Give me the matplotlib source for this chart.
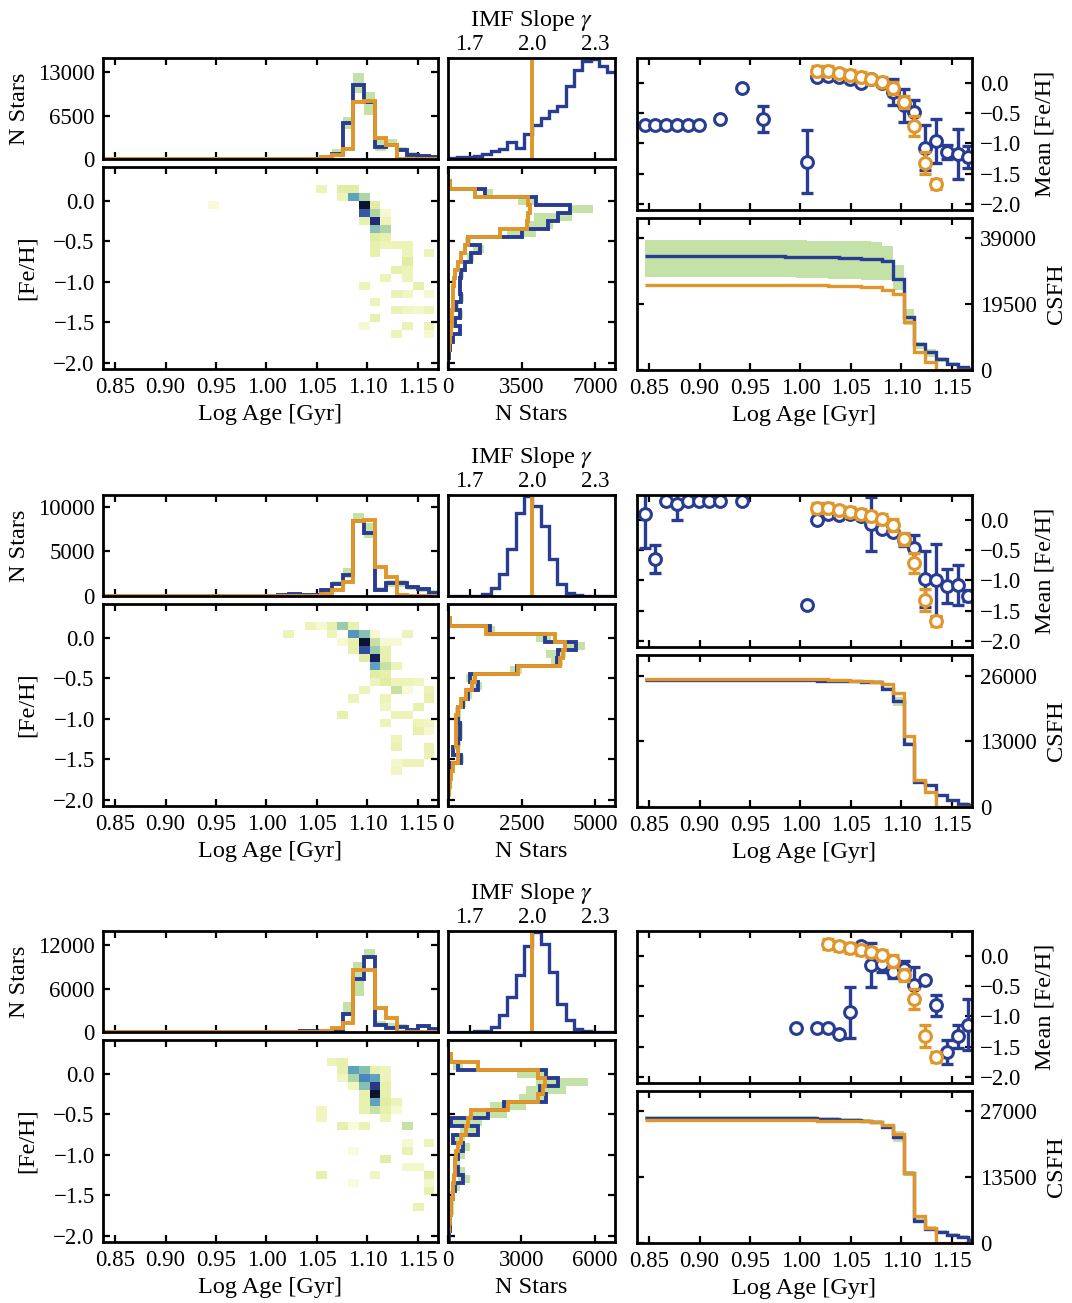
import numpy as np
import matplotlib
matplotlib.use("Agg")
import matplotlib.pyplot as plt
from matplotlib.colors import LinearSegmentedColormap

plt.rcParams.update({
    "font.family": ["Liberation Serif", "DejaVu Serif"],
    "mathtext.fontset": "stix",
    "font.size": 16.5,
    "axes.linewidth": 2.0,
})

# ---------------- grids ----------------
age_grid = np.round(0.8348 + 0.0107 * np.arange(33), 4)      # log-age grid
feh_grid = np.round(np.arange(-2.1, 0.45, 0.1), 1)           # [Fe/H] grid
imf_edges = np.round(np.arange(1.6, 2.4001, 0.04), 2)
feh_centers = np.round(np.arange(0.4, -2.15, -0.1), 1)       # 0.4 ... -2.1 (26)
AGE_K0 = 17                                                  # first age index listed

age_ticks = [0.85, 0.90, 0.95, 1.00, 1.05, 1.10, 1.15]
feh_ticks = [0.0, -0.5, -1.0, -1.5, -2.0]
imf_ticks = [1.7, 2.0, 2.3]
imf_true = 2.0

# ---------------- row 1 ----------------
r1_age_blue = [0, 0, 30, 60, 100, 760, 5400, 11100, 8500, 1760, 2050, 1360, 650, 500, 250]
r1_age_orange = [0, 0, 0, 50, 250, 650, 1500, 8570, 8700, 3175, 2100, 0, 0, 0, 0]
r1_age_lo = [0, 0, 0, 0, 50, 600, 4540, 9830, 6550, 1260, 1760, 1000, 500, 350, 150]
r1_age_hi = [0, 0, 50, 100, 200, 1500, 6300, 12950, 10080, 3020, 3020, 1760, 1000, 750, 500]
r1_age_ticks = [0, 6500, 13000]
r1_age_top = 15150

r1_imf = [3, 5, 7, 10, 15, 22, 28, 50, 33, 73, 98, 118, 138, 153, 213, 258, 283, 290, 270, 253]

r1_mdf_blue = [0, 0, 80, 1750, 4200, 5800, 5250, 4770, 3500, 950, 1510, 1110, 800, 640, 560, 560,
               640, 400, 590, 320, 560, 240, 80, 50, 0, 0]
r1_mdf_orange = [0, 0, 110, 1270, 3800, 3900, 3800, 3770, 2460, 950, 800, 640, 480, 320, 270, 240,
                 240, 240, 210, 210, 160, 110, 50, 0, 0, 0]
r1_mdf_lo = [0, 0, 0, 1650, 3340, 5800, 4100, 3700, 2800, 800, 1200, 900, 700, 550, 480, 480,
             550, 330, 500, 250, 480, 180, 30, 0, 0, 0]
r1_mdf_hi = [0, 0, 150, 2150, 4300, 6900, 5900, 5000, 4200, 1100, 1700, 1250, 900, 750, 650, 650,
             750, 500, 700, 400, 650, 320, 150, 80, 0, 0]
r1_mdf_ticks = [0, 3500, 7000]
r1_mdf_right = 7950

r1_cell_age = [20, 22, 23, 22, 23, 24, 10, 24, 25, 24, 25, 26, 24, 25, 26, 25, 26, 25, 26,
               25, 26, 27, 28, 25, 28, 30, 28, 27, 28, 26, 28, 24, 29, 27, 28, 30, 25,
               27, 28, 29, 30, 25, 24, 28, 30, 27, 30]
r1_cell_feh = [0.1, 0.1, 0.1, 0.0, 0.0, 0.0, -0.1, -0.1, -0.1, -0.2, -0.2, -0.2, -0.3, -0.3, -0.3,
               -0.4, -0.4, -0.5, -0.5, -0.6, -0.6, -0.6, -0.6, -0.7, -0.7, -0.7, -0.8, -0.9, -0.9,
               -1.0, -1.0, -1.1, -1.1, -1.2, -1.2, -1.2, -1.3, -1.4, -1.4, -1.4, -1.4, -1.5,
               -1.6, -1.6, -1.6, -1.7, -1.7]
r1_cell_n = [1, 2, 2, 1, 5, 3, 0.3, 10, 2, 7, 3, 0.5, 1.5, 9, 1, 4, 3, 2, 1.5, 1.5, 1, 1, 1,
             1.5, 1, 1, 2, 1.5, 1, 1, 1, 1, 1.5, 1.2, 0.8, 0.5, 1, 1.2, 0.8, 0.6, 1, 1.5,
             0.5, 1.2, 1.2, 1, 0.5]

r1_mean_k = [1, 2, 3, 4, 5, 6, 8, 10, 12, 16, 17, 18, 19, 20, 21, 22, 23, 24, 25, 26, 27, 28, 29, 30, 31]
r1_mean_val = [-0.70, -0.70, -0.70, -0.70, -0.70, -0.70, -0.60, -0.09, -0.60, -1.30, 0.10, 0.12,
               0.09, 0.06, -0.01, 0.06, 0.00, -0.155, -0.37, -0.48, -1.07, -0.96, -1.14, -1.18, -1.22]
r1_mean_err = [0, 0, 0, 0, 0, 0, 0, 0, 0.21, 0.52, 0, 0, 0, 0, 0, 0, 0, 0.21, 0.27, 0.20, 0.37,
               0.36, 0.12, 0.41, 0.18]

r1_csfh_blue = [33700] * 12 + [33650, 33600, 33550, 33500, 33450, 33350, 33250, 33100, 32950,
                               32750, 32340, 27080, 15670, 7740, 5260, 3270, 1790, 990, 300]
r1_csfh_orange = [25100] * 16 + [25050, 25000, 24900, 24800, 24700, 24500, 23800, 22600, 14200,
                                 5260, 2280, 0, 0, 0, 0]
r1_csfh_lo = [27600] * 12 + [27500, 27400, 27300, 27200, 27100, 27000, 26900, 26800, 26700, 26600,
                             26600, 23600, 13200, 6250, 3770, 2280, 1290, 600, 0]
r1_csfh_hi = [38500] * 12 + [38450, 38400, 38350, 38300, 38250, 38200, 38150, 38100, 38050, 38000,
                             36700, 31050, 18150, 8230, 6250, 3770, 2280, 1290, 800]
r1_csfh_ticks = [0, 19500, 39000]
r1_csfh_top = 45000

# ---------------- row 2 ----------------
r2_age_blue = [150, 200, 150, 100, 670, 1340, 2350, 8430, 7090, 670, 1420, 1420, 970, 750, 370]
r2_age_orange = [0, 0, 0, 50, 220, 670, 1600, 8430, 8500, 3200, 2090, 100, 0, 0, 0]
r2_age_lo = [100, 150, 100, 50, 500, 1100, 1980, 8200, 6450, 480, 1040, 970, 670, 480, 220]
r2_age_hi = [200, 250, 200, 150, 900, 1700, 3100, 9330, 8130, 1040, 1790, 1790, 1230, 970, 670]
r2_age_ticks = [0, 5000, 10000]
r2_age_top = 11300

r2_imf = [0, 0, 0, 1, 5, 25, 65, 140, 250, 300, 270, 210, 110, 35, 10, 2, 0, 0, 0, 0]

r2_mdf_blue = [0, 0, 60, 1420, 3300, 4370, 3750, 3700, 2330, 740, 1020, 680, 510, 340, 340, 400,
               400, 340, 170, 450, 60, 30, 0, 0, 0, 0]
r2_mdf_orange = [0, 0, 60, 1300, 3640, 3980, 3920, 3800, 2390, 910, 800, 620, 450, 340, 280, 280,
                 280, 260, 340, 340, 170, 110, 60, 30, 0, 0]
r2_mdf_lo = [0, 0, 0, 1300, 3000, 4000, 3350, 3500, 2100, 600, 850, 550, 400, 250, 250, 300,
             300, 250, 100, 350, 0, 0, 0, 0, 0, 0]
r2_mdf_hi = [0, 0, 100, 1600, 3500, 4650, 4000, 3900, 2500, 900, 1150, 800, 600, 450, 450, 500,
             500, 450, 250, 550, 120, 60, 0, 0, 0, 0]
r2_mdf_ticks = [0, 2500, 5000]
r2_mdf_right = 5680

r2_cell_age = [19, 20, 21, 22, 23, 17, 21, 23, 24, 25, 28, 22, 23, 24, 25, 26, 27, 23, 24, 25, 26,
               24, 25, 26, 25, 26, 27, 25, 26, 25, 26, 27, 28, 29, 24, 27, 28, 30, 23, 26, 30,
               26, 29, 22, 27, 28, 26, 29, 30, 29, 30, 27, 27, 30, 30, 27, 28, 29, 27]
r2_cell_feh = [0.1, 0.1, 0.1, 0.1, 0.1, 0.0, 0.0, 0.0, 0.0, 0.0, 0.0, -0.1, -0.1, -0.1, -0.1, -0.1,
               -0.1, -0.2, -0.2, -0.2, -0.2, -0.3, -0.3, -0.3, -0.4, -0.4, -0.4, -0.5, -0.5,
               -0.6, -0.6, -0.6, -0.6, -0.6, -0.7, -0.7, -0.7, -0.7, -0.8, -0.8, -0.8, -0.9, -0.9,
               -1.0, -1.0, -1.0, -1.1, -1.1, -1.1, -1.2, -1.2, -1.3, -1.4, -1.4, -1.5, -1.6,
               -1.6, -1.6, -1.7]
r2_cell_n = [1, 0.5, 1.5, 3.5, 1.5, 1, 1, 5.5, 4, 0.4, 1, 0.4, 1.5, 10, 2.5, 0.4, 0.4, 1.5, 7.5,
             3.5, 1.5, 2, 9.5, 1.5, 5, 2.5, 1, 2, 1.5, 1, 2, 1, 1, 0.8, 1, 2.5, 0.3, 1.2, 1, 1,
             1.5, 0.8, 1.5, 1.5, 1, 1, 1, 1, 0.8, 1.5, 0.5, 1, 1.3, 1.3, 1.3, 0.6, 1, 1, 0.8]

r2_mean_k = [1, 2, 3, 4, 5, 6, 7, 8, 10, 16, 17, 18, 19, 20, 21, 22, 23, 24, 25, 26, 27, 28, 29, 30, 31]
r2_mean_val = [0.10, -0.65, 0.305, 0.26, 0.305, 0.305, 0.305, 0.305, 0.305, -1.40, 0.00, 0.09, 0.08,
               0.10, 0.06, -0.07, -0.15, -0.20, -0.33, -0.47, -0.98, -1.00, -1.10, -1.07, -1.25]
r2_mean_err = [0.57, 0.23, 0, 0.27, 0, 0, 0, 0, 0, 0, 0, 0, 0, 0, 0, 0.44, 0.05, 0.05, 0.10,
               0.22, 0.46, 0.60, 0.28, 0.33, 0.09]

r2_csfh_blue = [25180] * 14 + [25150, 25100, 25050, 25000, 24950, 24900, 24850, 24800, 23380,
                               20900, 12490, 4900, 4340, 2300, 1340, 670, 330]
r2_csfh_orange = [25300] * 16 + [25250, 25200, 25150, 25050, 24950, 24850, 24400, 22500, 14000,
                                 5340, 3000, 0, 0, 0, 0]
r2_csfh_lo = [24900] * 14 + [24850, 24800, 24750, 24700, 24650, 24600, 24550, 24500, 23000, 20000,
                             12200, 4600, 4000, 2000, 1000, 400, 0]
r2_csfh_hi = [25500] * 14 + [25450, 25400, 25350, 25300, 25250, 25200, 25150, 25100, 23800, 21700,
                             12900, 5200, 4600, 2600, 1600, 1000, 600]
r2_csfh_ticks = [0, 13000, 26000]
r2_csfh_top = 30100

# ---------------- row 3 ----------------
r3_age_blue = [0, 0, 100, 140, 150, 280, 2460, 7350, 10370, 930, 600, 740, 280, 840, 370]
r3_age_orange = [0, 0, 0, 0, 140, 600, 1300, 8500, 8500, 3250, 2000, 0, 0, 0, 0]
r3_age_lo = [0, 0, 50, 100, 100, 150, 2230, 5020, 10140, 840, 600, 600, 140, 600, 140]
r3_age_hi = [0, 0, 150, 200, 250, 700, 4090, 9670, 11530, 1530, 1300, 1070, 600, 1160, 600]
r3_age_ticks = [0, 6000, 12000]
r3_age_top = 13950

r3_imf = [0, 0, 0, 2, 3, 15, 50, 105, 170, 257, 300, 265, 180, 85, 35, 10, 2, 0, 0, 0]

r3_mdf_blue = [0, 0, 100, 410, 4020, 4500, 3750, 4020, 2300, 1640, 140, 1230, 200, 610, 410, 270,
               410, 610, 270, 200, 140, 140, 70, 70, 40, 0]
r3_mdf_orange = [0, 0, 140, 1230, 3680, 3960, 3890, 3680, 2450, 950, 820, 750, 550, 410, 310, 270,
                 270, 230, 200, 200, 140, 140, 70, 40, 0, 0]
r3_mdf_lo = [0, 0, 0, 200, 2800, 3600, 3200, 2900, 1700, 1000, 100, 500, 200, 400, 300, 200,
             300, 400, 200, 100, 50, 50, 0, 0, 0, 0]
r3_mdf_hi = [0, 0, 200, 600, 4100, 5700, 4800, 4000, 3200, 2400, 1400, 1300, 700, 900, 700, 500,
             700, 900, 500, 300, 250, 250, 150, 150, 100, 0]
r3_mdf_ticks = [0, 3000, 6000]
r3_mdf_right = 6820

r3_cell_age = [21, 22, 22, 23, 24, 25, 26, 22, 23, 24, 25, 26, 23, 24, 25, 26, 24, 25, 26, 24, 25,
               26, 27, 20, 24, 25, 26, 27, 20, 26, 22, 23, 24, 28, 28, 30, 23, 28, 26, 28, 29,
               20, 25, 30, 23, 30, 30, 29]
r3_cell_feh = [0.1, 0.1, 0.0, 0.0, 0.0, 0.0, 0.0, -0.1, -0.1, -0.1, -0.1, -0.1, -0.2, -0.2, -0.2,
               -0.2, -0.3, -0.3, -0.3, -0.4, -0.4, -0.4, -0.4, -0.5, -0.5, -0.5, -0.5, -0.5,
               -0.6, -0.6, -0.7, -0.7, -0.7, -0.7, -0.9, -0.9, -1.0, -1.0, -1.1, -1.2, -1.2,
               -1.3, -1.3, -1.3, -1.4, -1.4, -1.5, -1.7]
r3_cell_n = [1, 1.5, 1.5, 5, 4, 1.5, 1, 0.8, 3, 6, 5, 1, 0.8, 4, 8.5, 1.5, 1.5, 10, 1.5, 1.5, 5,
             2, 1, 0.8, 1.5, 2.5, 1.5, 0.4, 0.8, 1, 1.5, 0.3, 1.2, 2.5, 0.5, 1, 0.2, 1.3, 1.8,
             0.6, 0.6, 1.5, 0.8, 1.8, 0.2, 0.6, 1.5, 1.2]

r3_mean_k = [15, 17, 18, 19, 20, 21, 22, 23, 24, 25, 26, 27, 28, 29, 30, 31]
r3_mean_val = [-1.19, -1.19, -1.19, -1.29, -0.93, 0.16, -0.15, -0.13, -0.26, -0.22, -0.48, -0.40,
               -0.82, -1.59, -1.33, -1.14]
r3_mean_err = [0, 0, 0, 0, 0.42, 0.03, 0.36, 0.14, 0.11, 0.13, 0.29, 0, 0.18, 0.20, 0.19, 0.42]

r3_csfh_blue = [25700] * 14 + [25650, 25600, 25500, 25400, 25300, 25150, 25000, 24820, 23800,
                               21690, 14280, 4560, 2920, 2240, 1560, 1160, 680]
r3_csfh_orange = [25160] * 14 + [25140, 25120, 25100, 25050, 25000, 24950, 24900, 24800, 24140,
                                 22440, 14280, 5440, 3060, 0, 0, 0, 0]
r3_csfh_lo = [25300] * 14 + [25250, 25200, 25100, 25000, 24900, 24750, 24600, 24400, 23400, 20800,
                             13800, 4300, 2600, 2000, 1300, 900, 500]
r3_csfh_hi = [26100] * 14 + [26050, 26000, 25900, 25800, 25700, 25550, 25400, 25200, 24400, 22900,
                             14800, 5200, 3400, 2700, 2000, 1700, 1200]
r3_csfh_ticks = [0, 13500, 27000]
r3_csfh_top = 31150

# true (input) mean metallicity per age
true_mean_k = [17, 18, 19, 20, 21, 22, 23, 24, 25, 26, 27, 28]
true_mean_val = [0.20, 0.20, 0.155, 0.13, 0.10, 0.055, 0.016, -0.09, -0.31, -0.71, -1.33, -1.67]
true_mean_err = [0.08, 0.08, 0.08, 0.08, 0.08, 0.08, 0.08, 0.10, 0.10, 0.16, 0.18, 0.09]

# ---------------- styling ----------------
BLUE = "#283c92"
ORANGE = "#e0962a"
GREEN = "#c4e2a8"
CMAP = LinearSegmentedColormap.from_list("ylgnbu_muted", [
    (0.00, "#fcfde4"), (0.10, "#eef3b9"), (0.20, "#e2eca2"), (0.30, "#abd5aa"),
    (0.40, "#86c0b1"), (0.50, "#5fa3bd"), (0.60, "#4a86bf"), (0.70, "#3458a5"),
    (0.80, "#2f479c"), (0.90, "#262a78"), (1.00, "#0c1430")])
XLIM = (0.838, 1.170)
FEH_LIM = (-2.08, 0.42)
MEAN_LIM = (-2.10, 0.41)
IMF_LIM = (1.596, 2.396)
FS = 16.5
LFS = 17.5

rows = [
    dict(age=(r1_age_blue, r1_age_orange, r1_age_lo, r1_age_hi), age_ticks=r1_age_ticks, age_top=r1_age_top,
         imf=r1_imf, mdf=(r1_mdf_blue, r1_mdf_orange, r1_mdf_lo, r1_mdf_hi), mdf_ticks=r1_mdf_ticks,
         mdf_right=r1_mdf_right, cells=(r1_cell_age, r1_cell_feh, r1_cell_n),
         mean=(r1_mean_k, r1_mean_val, r1_mean_err), true_start=0,
         csfh=(r1_csfh_blue, r1_csfh_orange, r1_csfh_lo, r1_csfh_hi), csfh_ticks=r1_csfh_ticks,
         csfh_top=r1_csfh_top),
    dict(age=(r2_age_blue, r2_age_orange, r2_age_lo, r2_age_hi), age_ticks=r2_age_ticks, age_top=r2_age_top,
         imf=r2_imf, mdf=(r2_mdf_blue, r2_mdf_orange, r2_mdf_lo, r2_mdf_hi), mdf_ticks=r2_mdf_ticks,
         mdf_right=r2_mdf_right, cells=(r2_cell_age, r2_cell_feh, r2_cell_n),
         mean=(r2_mean_k, r2_mean_val, r2_mean_err), true_start=0,
         csfh=(r2_csfh_blue, r2_csfh_orange, r2_csfh_lo, r2_csfh_hi), csfh_ticks=r2_csfh_ticks,
         csfh_top=r2_csfh_top),
    dict(age=(r3_age_blue, r3_age_orange, r3_age_lo, r3_age_hi), age_ticks=r3_age_ticks, age_top=r3_age_top,
         imf=r3_imf, mdf=(r3_mdf_blue, r3_mdf_orange, r3_mdf_lo, r3_mdf_hi), mdf_ticks=r3_mdf_ticks,
         mdf_right=r3_mdf_right, cells=(r3_cell_age, r3_cell_feh, r3_cell_n),
         mean=(r3_mean_k, r3_mean_val, r3_mean_err), true_start=1,
         csfh=(r3_csfh_blue, r3_csfh_orange, r3_csfh_lo, r3_csfh_hi), csfh_ticks=r3_csfh_ticks,
         csfh_top=r3_csfh_top),
]

W, H = 1072, 1303
fig = plt.figure(figsize=(W / 100, H / 100), dpi=100)


def pax(x0, y0, x1, y1):
    return fig.add_axes([x0 / W, 1 - y1 / H, (x1 - x0) / W, (y1 - y0) / H])


def style(ax, **kw):
    params = dict(which="both", direction="in", top=True, bottom=True, left=True, right=True,
                  length=5, width=1.6, labelsize=FS, pad=6,
                  labelleft=False, labelright=False, labelbottom=False, labeltop=False)
    params.update(kw)
    ax.tick_params(**params)
    for s in ax.spines.values():
        s.set_linewidth(2.0)
        s.set_zorder(5)


hw = 0.0107 / 2
age_hist_edges = np.append(age_grid[:32] - hw, age_grid[31] + hw)
feh_asc = feh_centers[::-1]
mdf_edges = np.append(feh_asc - 0.05, feh_asc[-1] + 0.05)


def pad_age(v):
    return np.concatenate([np.zeros(AGE_K0), np.asarray(v, float)])


for r, d in enumerate(rows):
    dy = [0, 437, 873][r]
    ax_age = pax(103, 58 + dy, 438, 159 + dy)
    ax2d = pax(103, 167 + dy, 438, 369 + dy)
    ax_imf = pax(448, 58 + dy, 615, 159 + dy)
    ax_mdf = pax(448, 167 + dy, 615, 369 + dy)
    ax_mean = pax(637, 58 + dy, 972, 210 + dy)
    ax_cs = pax(637, 218 + dy, 972, 370 + dy)

    # --- age histogram ---
    b, o, lo, hi = (pad_age(a) for a in d["age"])
    ax_age.stairs(hi, age_hist_edges, baseline=lo, fill=True, color=GREEN, lw=0, zorder=1)
    ax_age.stairs(b, age_hist_edges, color=BLUE, lw=2.8, zorder=2)
    ax_age.stairs(o, age_hist_edges, color=ORANGE, lw=2.8, zorder=3)
    ax_age.set_xlim(*XLIM)
    ax_age.set_ylim(0, d["age_top"])
    ax_age.set_xticks(age_ticks)
    ax_age.set_yticks(d["age_ticks"])
    ax_age.set_ylabel("N Stars", fontsize=LFS, labelpad=6)
    style(ax_age, labelleft=True)

    # --- 2D hist ---
    ca, cf, cn = d["cells"]
    Hm = np.full((len(feh_grid) - 1, 32), np.nan)
    for j, f, n in zip(ca, cf, cn):
        i = int(round((f - feh_grid[0]) / 0.1))
        Hm[i, j] = n
    ax2d.pcolormesh(age_grid, feh_grid, np.ma.masked_invalid(Hm), cmap=CMAP, vmin=0, vmax=10,
                    shading="flat", zorder=1)
    ax2d.set_xlim(*XLIM)
    ax2d.set_ylim(*FEH_LIM)
    ax2d.set_xticks(age_ticks)
    ax2d.set_yticks(feh_ticks)
    ax2d.set_xlabel("Log Age [Gyr]", fontsize=LFS, labelpad=4)
    ax2d.set_ylabel("[Fe/H]", fontsize=LFS, labelpad=11)
    style(ax2d, labelleft=True, labelbottom=True)

    # --- IMF ---
    ax_imf.stairs(d["imf"], imf_edges, color=BLUE, lw=2.4, zorder=2)
    ax_imf.axvline(imf_true, color=ORANGE, lw=2.8, zorder=3)
    ax_imf.set_xlim(*IMF_LIM)
    ax_imf.set_ylim(0, max(d["imf"]) * 1.01)
    ax_imf.set_xticks(imf_ticks)
    ax_imf.set_yticks([])
    ax_imf.xaxis.set_label_position("top")
    ax_imf.set_xlabel(r"IMF Slope $\gamma$", fontsize=LFS, labelpad=6)
    style(ax_imf, top=False, left=False, right=False, labeltop=True, pad=2)

    # --- MDF ---
    mb, mo, mlo, mhi = (np.asarray(a, float)[::-1] for a in d["mdf"])
    ax_mdf.stairs(mhi, mdf_edges, baseline=mlo, fill=True, color=GREEN, lw=0,
                  orientation="horizontal", zorder=1)
    ax_mdf.stairs(mb, mdf_edges, color=BLUE, lw=2.8, orientation="horizontal", zorder=2)
    ax_mdf.stairs(mo, mdf_edges, color=ORANGE, lw=2.8, orientation="horizontal", zorder=3)
    ax_mdf.set_ylim(*FEH_LIM)
    ax_mdf.set_xlim(0, d["mdf_right"])
    ax_mdf.set_yticks(feh_ticks)
    ax_mdf.set_xticks(d["mdf_ticks"])
    ax_mdf.set_xlabel("N Stars", fontsize=LFS, labelpad=4)
    style(ax_mdf, labelbottom=True)

    # --- mean [Fe/H] ---
    mk, mv, me = d["mean"]
    mk = np.array(mk); mv = np.array(mv, float); me = np.array(me, float)
    ma = age_grid[mk]
    sel = me > 0
    ax_mean.errorbar(ma[sel], mv[sel], yerr=me[sel], fmt="none", ecolor=BLUE, elinewidth=2.4,
                     capsize=4.2, capthick=2.4, zorder=2)
    ax_mean.plot(ma, mv, "o", ms=8.5, mfc="white", mec=BLUE, mew=2.2, zorder=3)
    s0 = d["true_start"]
    ta = age_grid[np.array(true_mean_k[s0:])]
    tv = np.array(true_mean_val[s0:]); te = np.array(true_mean_err[s0:])
    ax_mean.errorbar(ta, tv, yerr=te, fmt="none", ecolor=ORANGE, elinewidth=2.4,
                     capsize=4.2, capthick=2.4, zorder=4)
    ax_mean.plot(ta, tv, "o", ms=8.5, mfc="white", mec=ORANGE, mew=2.2, zorder=5)
    ax_mean.set_xlim(*XLIM)
    ax_mean.set_ylim(*MEAN_LIM)
    ax_mean.set_xticks(age_ticks)
    ax_mean.set_yticks(feh_ticks)
    ax_mean.yaxis.set_label_position("right")
    ax_mean.set_ylabel("Mean [Fe/H]", fontsize=LFS, labelpad=9)
    style(ax_mean, labelright=True)

    # --- CSFH ---
    cb, co, clo, chi = (np.asarray(a, float) for a in d["csfh"])
    cedges = age_grid[1:33]
    ax_cs.stairs(chi, cedges, baseline=clo, fill=True, color=GREEN, lw=0, zorder=1)
    ax_cs.stairs(cb, cedges, color=BLUE, lw=2.4, zorder=2, baseline=None)
    ax_cs.stairs(co, cedges, color=ORANGE, lw=2.4, zorder=3, baseline=None)
    ax_cs.set_xlim(*XLIM)
    ax_cs.set_ylim(0, d["csfh_top"])
    ax_cs.set_xticks(age_ticks)
    ax_cs.set_yticks(d["csfh_ticks"])
    ax_cs.yaxis.set_label_position("right")
    ax_cs.set_ylabel("CSFH", fontsize=LFS, labelpad=6)
    ax_cs.set_xlabel("Log Age [Gyr]", fontsize=LFS, labelpad=4)
    style(ax_cs, labelright=True, labelbottom=True)

fig.savefig("out.png", dpi=100, facecolor="white")
